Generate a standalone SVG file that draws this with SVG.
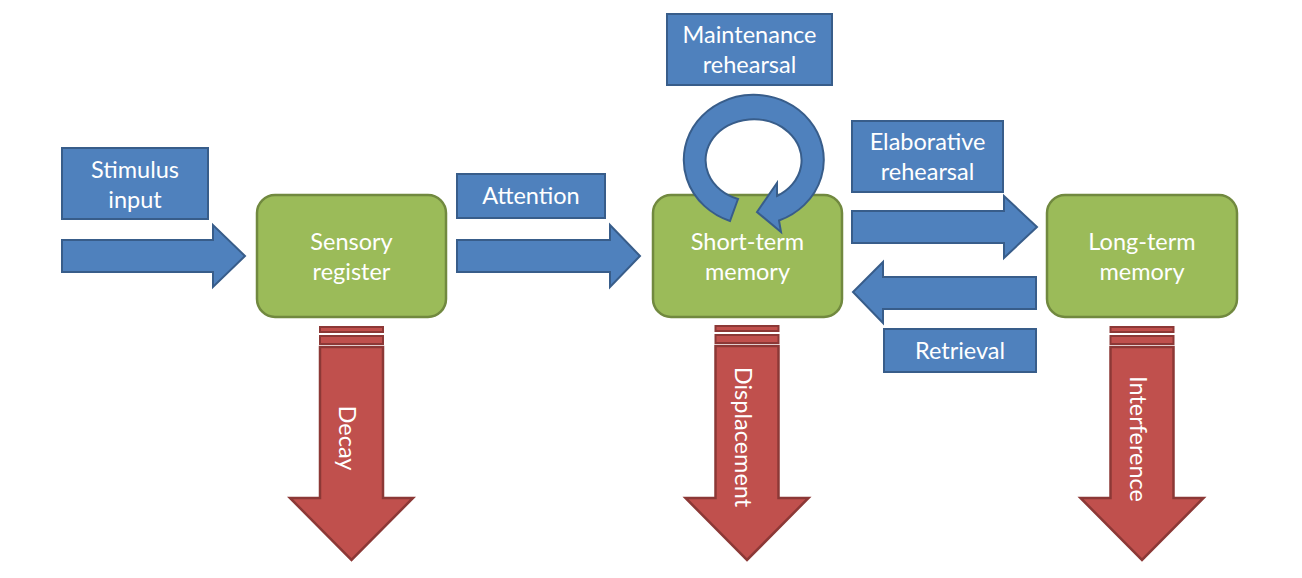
<svg xmlns="http://www.w3.org/2000/svg" width="1302" height="578" viewBox="0 0 1302 578">
<style>
.lbl{fill:#4F81BD;stroke:#385D8A;stroke-width:2}
.mem{fill:#9BBB59;stroke:#71893F;stroke-width:2.5}
.barrow{fill:#4F81BD;stroke:#385D8A;stroke-width:2;stroke-linejoin:miter}
.rarrow{fill:#C0504D;stroke:#8C3836;stroke-width:2.5;stroke-linejoin:miter}
.stripe{fill:#C0504D;stroke:#8C3836;stroke-width:2}
text{font-family:Lato,"Liberation Sans",sans-serif;font-size:23.5px;fill:#FFFFFF;text-anchor:middle;dominant-baseline:central}
</style>
<rect width="1302" height="578" fill="#FFFFFF"/>

<g id="connectors">
  <path class="barrow" d="M62,240 H213 V225 L245,256 L213,287 V272 H62 Z"/>
  <path class="barrow" d="M457,240 H610 V225 L640,256 L610,287 V272 H457 Z"/>
  <path class="barrow" d="M852,211 H1004 V196 L1037,227 L1004,258 V243 H852 Z"/>
  <path class="barrow" d="M1036,277 H883 V262 L853,292 L883,323 V309 H1036 Z"/>
  <g id="decay-arrow">
    <rect class="stripe" x="320" y="327" width="63" height="5"/>
    <rect class="stripe" x="320" y="336" width="63" height="8"/>
    <path class="rarrow" d="M320,347 H383 V498 H413 L351.5,560 L290,498 H320 Z"/>
    <text transform="translate(348,438) rotate(90)">Decay</text>
  </g>
  <g id="displacement-arrow">
    <rect class="stripe" x="715.5" y="326" width="63" height="5"/>
    <rect class="stripe" x="715.5" y="335" width="63" height="8"/>
    <path class="rarrow" d="M715.5,346 H778.5 V498 H808.5 L747,560 L685.5,498 H715.5 Z"/>
    <text transform="translate(744,437) rotate(90)">Displacement</text>
  </g>
  <g id="interference-arrow">
    <rect class="stripe" x="1110.5" y="327" width="63" height="5"/>
    <rect class="stripe" x="1110.5" y="336" width="63" height="8"/>
    <path class="rarrow" d="M1110.5,347 H1173.5 V498 H1203.5 L1142,560 L1080.5,498 H1110.5 Z"/>
    <text transform="translate(1139,439) rotate(90)">Interference</text>
  </g>
</g>

<g id="stimulus-input">
  <rect class="lbl" x="62" y="148" width="146" height="71"/>
  <text x="135" y="169">Stimulus</text>
  <text x="135" y="199">input</text>
</g>
<g id="sensory-register">
  <rect class="mem" x="257" y="195" width="189" height="122" rx="18"/>
  <text x="351.5" y="241">Sensory</text>
  <text x="351.5" y="271">register</text>
</g>
<g id="attention">
  <rect class="lbl" x="457" y="174" width="148" height="44"/>
  <text x="531" y="195">Attention</text>
</g>
<g id="short-term-memory">
  <rect class="mem" x="653" y="195" width="189" height="122" rx="18"/>
  <text x="747.5" y="241">Short-term</text>
  <text x="747.5" y="271">memory</text>
</g>
<g id="maintenance-rehearsal">
  <rect class="lbl" x="667" y="14" width="165" height="71"/>
  <text x="749.5" y="34">Maintenance</text>
  <text x="749.5" y="64">rehearsal</text>
  <path class="barrow" d="M730,221 A70 65 0 1 1 779,220.5 L781,232 L757,212 L777,183 L777,196 A48 41 0 1 0 738,199 Z"/>
</g>
<g id="elaborative-rehearsal">
  <rect class="lbl" x="852" y="121" width="151" height="71"/>
  <text x="927.5" y="141">Elaborative</text>
  <text x="927.5" y="171">rehearsal</text>
</g>
<g id="retrieval">
  <rect class="lbl" x="884" y="329" width="152" height="43"/>
  <text x="960" y="350">Retrieval</text>
</g>
<g id="long-term-memory">
  <rect class="mem" x="1047" y="195" width="190" height="122" rx="18"/>
  <text x="1142" y="241">Long-term</text>
  <text x="1142" y="271">memory</text>
</g>
</svg>
